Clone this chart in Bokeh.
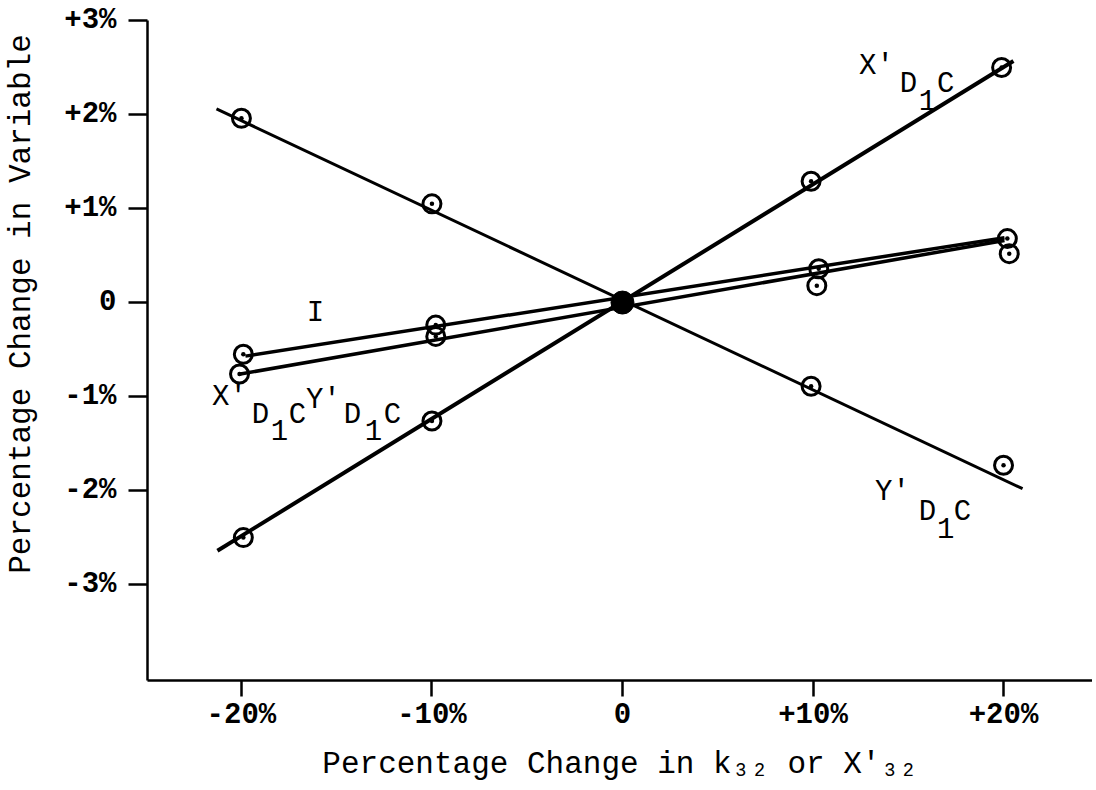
from bokeh.plotting import figure
from bokeh.models import Range1d, FixedTicker, ColumnDataSource
from bokeh.core.properties import value
from bokeh.embed import file_html
from bokeh.resources import INLINE

# ---------------- data (percent) ----------------
# X'D1C (steep positive)
xd_x = [-19.9, -10.0, 9.9, 19.9]
xd_y = [-2.50, -1.26, 1.29, 2.50]
xd_line_x = [-21.26, 20.52]
xd_line_y = [-2.64, 2.57]

# Y'D1C (negative slope)
yd_x = [-20.0, -10.0, 9.9, 20.0]
yd_y = [1.96, 1.05, -0.89, -1.73]
yd_line_x = [-21.31, 21.0]
yd_line_y = [2.06, -1.98]

# I
i_x = [-19.9, -9.8, 10.3, 20.2]
i_y = [-0.55, -0.24, 0.36, 0.68]
i_line_x = [-19.79, 20.05]
i_line_y = [-0.57, 0.69]

# X'D1C Y'D1C (combined)
c_x = [-20.1, -9.8, 10.2, 20.3]
c_y = [-0.76, -0.36, 0.18, 0.52]
c_line_x = [-20.05, 20.05]
c_line_y = [-0.76, 0.66]

# base point
base_x = [0.0]
base_y = [0.0]

x_ticks = [-20, -10, 0, 10, 20]
x_tick_labels = ["-20%", "-10%", "0", "+10%", "+20%"]
y_ticks = [3, 2, 1, 0, -1, -2, -3]
y_tick_labels = ["+3%", "+2%", "+1%", "0", "-1%", "-2%", "-3%"]

x_title = "Percentage Change in k\u2083\u2082 or X'\u2083\u2082"
y_title = "Percentage Change in Variable"

# in-chart labels
ann_text = ["X'", "D", "1", "C",
            "Y'", "D", "1", "C",
            "X'", "D", "1", "C", "Y'", "D", "1", "C",
            "I"]
ann_x = [13.33, 15.01, 16.01, 16.96,
         14.17, 16.01, 16.96, 17.85,
         -20.63, -19.0, -18.0, -17.06, -15.70, -14.17, -13.07, -12.07,
         -16.12]
ann_y = [2.51, 2.32, 2.15, 2.32,
         -2.02, -2.23, -2.40, -2.23,
         -1.01, -1.20, -1.36, -1.20, -1.04, -1.20, -1.36, -1.20,
         -0.12]

FONT = "Liberation Mono"

p = figure(width=1092, height=786,
           x_range=Range1d(-24.93, 24.67), y_range=Range1d(-4.02, 3.0),
           output_backend="svg", toolbar_location=None,
           min_border_left=147, min_border_right=0,
           min_border_top=20, min_border_bottom=106)
p.outline_line_color = None
p.grid.visible = False
p.background_fill_color = "white"
p.border_fill_color = "white"

for ax in (p.xaxis, p.yaxis):
    ax.axis_line_width = 2.5
    ax.axis_line_color = "black"
    ax.major_tick_line_width = 2.5
    ax.major_tick_line_color = "black"
    ax.major_tick_in = 0
    ax.minor_tick_in = 0
    ax.minor_tick_out = 0
    ax.major_label_text_font = FONT
    ax.major_label_text_font_size = "29px"
    ax.major_label_text_font_style = "bold"
    ax.major_label_text_color = "black"
    ax.axis_label_text_font = FONT
    ax.axis_label_text_font_size = "31px"
    ax.axis_label_text_font_style = "normal"
    ax.axis_label_text_color = "black"

p.xaxis.ticker = FixedTicker(ticks=x_ticks)
p.xaxis.major_label_overrides = {t: l for t, l in zip(x_ticks, x_tick_labels)}
p.xaxis.major_tick_out = 16
p.xaxis.major_label_standoff = 2
p.xaxis.axis_label = x_title
p.xaxis.axis_label_standoff = 12

p.yaxis.ticker = FixedTicker(ticks=y_ticks)
p.yaxis.major_label_overrides = {t: l for t, l in zip(y_ticks, y_tick_labels)}
p.yaxis.major_tick_out = 19
p.yaxis.major_label_standoff = 12
# leading no-break spaces move the centred title toward the top, as in the original
p.yaxis.axis_label = "\u00a0" * 5 + y_title
p.yaxis.axis_label_standoff = 22

# fitted lines
p.line(xd_line_x, xd_line_y, line_color="black", line_width=4)
p.line(yd_line_x, yd_line_y, line_color="black", line_width=3)
p.line(i_line_x, i_line_y, line_color="black", line_width=3.5)
p.line(c_line_x, c_line_y, line_color="black", line_width=3.5)

# observed points
for xs, ys in ((xd_x, xd_y), (yd_x, yd_y), (i_x, i_y), (c_x, c_y)):
    p.scatter(xs, ys, marker="circle_dot", size=18, line_width=3,
              line_color="black", fill_color=None)

p.scatter(base_x, base_y, marker="circle", size=23, color="black")

src = ColumnDataSource(dict(x=ann_x, y=ann_y, t=ann_text))
p.text(x="x", y="y", text="t", source=src, text_font=value(FONT),
       text_font_size="29px", text_align="center", text_baseline="middle",
       text_color="black")

open("out.html", "w").write(file_html(p, INLINE))
